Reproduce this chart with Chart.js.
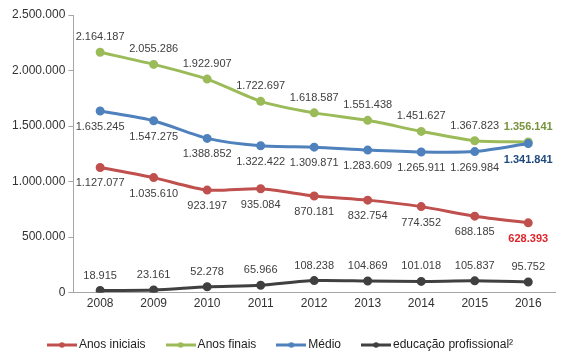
<!DOCTYPE html>
<html>
<head>
<meta charset="utf-8">
<script src="https://cdn.jsdelivr.net/npm/chart.js@4"></script>
<style>
html,body{margin:0;padding:0;background:#fff;}
#wrap{width:579px;height:354px;position:relative;}
</style>
</head>
<body>
<div id="wrap"><canvas id="c" width="579" height="354"></canvas></div>
<script>
const years = ['2008','2009','2010','2011','2012','2013','2014','2015','2016'];
const anosIniciais = [1127077,1035610,923197,935084,870181,832754,774352,688185,628393];
const anosFinais   = [2164187,2055286,1922907,1722697,1618587,1551438,1451627,1367823,1356141];
const medio        = [1635245,1547275,1388852,1322422,1309871,1283609,1265911,1269984,1341841];
const educProf     = [18915,23161,52278,65966,108238,104869,101018,105837,95752];
const seriesNames  = ['Anos iniciais','Anos finais','Médio','educação profissional²'];
const yTicks = [0,500000,1000000,1500000,2000000,2500000];

const fmt = v => String(Math.round(v)).replace(/\B(?=(\d{3})+(?!\d))/g, '.');

function legendIcon(color){
  const c = document.createElement('canvas');
  c.width = 30; c.height = 8;
  const x = c.getContext('2d');
  x.strokeStyle = color; x.lineWidth = 3;
  x.beginPath(); x.moveTo(0,4); x.lineTo(30,4); x.stroke();
  x.fillStyle = color; x.beginPath(); x.arc(15,4,2.8,0,Math.PI*2); x.fill();
  return c;
}

const colors = ['#C0504D','#9BBB59','#4F81BD','#404040'];
const labelPos = ['below','above','below','above'];
const lastLabel = [
  {color:'#E0242B', bold:true},
  {color:'#77933C', bold:true},
  {color:'#1F497D', bold:true},
  null
];

const labelPlugin = {
  id:'dataLabels',
  afterDatasetsDraw(chart){
    const ctx = chart.ctx;
    ctx.save();
    ctx.textAlign = 'center';
    ctx.textBaseline = 'middle';
    chart.data.datasets.forEach((ds, i) => {
      const meta = chart.getDatasetMeta(i);
      meta.data.forEach((pt, j) => {
        const last = j === ds.data.length - 1 && lastLabel[i];
        ctx.font = (last ? 'bold ' : '') + '11px "Liberation Sans", Arial, sans-serif';
        ctx.fillStyle = last ? lastLabel[i].color : '#404040';
        const dy = labelPos[i] === 'above' ? -15 : 16;
        ctx.fillText(fmt(ds.data[j]), pt.x, pt.y + dy);
      });
    });
    ctx.restore();
  }
};

const mk = (i, data, order) => ({
  label: seriesNames[i], data, borderColor: colors[i], backgroundColor: colors[i],
  borderWidth: 3, pointRadius: 3, pointHoverRadius: 3, tension: 0.25, order
});

new Chart(document.getElementById('c'), {
  type: 'line',
  data: {
    labels: years,
    datasets: [mk(0, anosIniciais, 4), mk(1, anosFinais, 3), mk(2, medio, 2), mk(3, educProf, 1)]
  },
  options: {
    responsive: false, animation: false,
    layout: { padding: { top: 15, right: 24, left: 9, bottom: -7 } },
    plugins: {
      tooltip: { enabled: false },
      legend: {
        position: 'bottom',
        labels: {
          usePointStyle: true, pointStyleWidth: 22, padding: 24,
          color: '#222', font: { family: '"Liberation Sans", Arial, sans-serif', size: 12 },
          generateLabels(chart){
            return chart.data.datasets.map((ds, i) => ({
              text: ds.label, pointStyle: legendIcon(colors[i]), fillStyle: colors[i],
              strokeStyle: colors[i], lineWidth: 0, hidden: false, datasetIndex: i, fontColor: '#222'
            }));
          }
        }
      }
    },
    scales: {
      x: {
        offset: true,
        grid: { display: false, drawTicks: false },
        border: { color: '#A6A6A6', width: 1 },
        ticks: { color: '#333', padding: 4, font: { family: '"Liberation Sans", Arial, sans-serif', size: 12 } }
      },
      y: {
        min: 0, max: 2500000,
        afterBuildTicks(axis){ axis.ticks = yTicks.map(v => ({ value: v })); },
        grid: { display: true, drawOnChartArea: false, tickLength: 5, color: '#A6A6A6' },
        border: { color: '#A6A6A6', width: 1 },
        ticks: { color: '#333', padding: 3, callback: v => fmt(v), font: { family: '"Liberation Sans", Arial, sans-serif', size: 12 } }
      }
    }
  },
  plugins: [labelPlugin]
});
</script>
</body>
</html>
